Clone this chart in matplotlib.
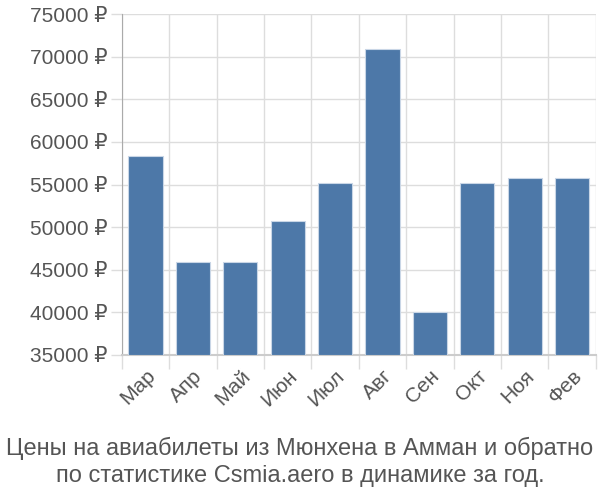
import matplotlib.pyplot as plt
import numpy as np

plt.rcParams['font.family'] = ['Liberation Sans', 'DejaVu Sans']

months = ['Мар', 'Апр', 'Май', 'Июн', 'Июл', 'Авг', 'Сен', 'Окт', 'Ноя', 'Фев']
prices = [58300, 45900, 45900, 50700, 55200, 70900, 40000, 55200, 55800, 55800]
yticks = [35000, 40000, 45000, 50000, 55000, 60000, 65000, 70000, 75000]

fig = plt.figure(figsize=(6, 5), dpi=100)
ax = fig.add_axes([0.203, 0.29, 0.79, 0.682])

x = np.arange(len(months))
ax.bar(x, np.array(prices) - 35000, bottom=35000, width=0.72,
       color='#4d78a8', edgecolor='#c9d6e6', linewidth=0.8, zorder=3)

ax.set_xlim(-0.5, len(months) - 0.5)
ax.set_ylim(35000, 75000)
ax.set_yticks(yticks)
ax.set_yticklabels([f'{v} ₽' for v in yticks], fontsize=15, color='#555555')

# vertical grid lines sit on category boundaries
ax.set_xticks(np.arange(len(months) + 1) - 0.5, minor=True)
ax.set_xticks(x)
ax.set_xticklabels(months, rotation=45, ha='right', rotation_mode='anchor',
                   fontsize=15, color='#555555')
ax.tick_params(axis='x', which='major', length=0, pad=8)
ax.tick_params(axis='x', which='minor', length=10, color='#dddddd', width=1)
ax.tick_params(axis='y', length=8, color='#dddddd', width=1, pad=2)

ax.grid(True, axis='y', color='#dddddd', linewidth=1, zorder=0)
ax.grid(True, axis='x', which='minor', color='#dddddd', linewidth=1, zorder=0)

for side in ['top', 'right']:
    ax.spines[side].set_visible(False)
ax.spines['left'].set_color('#aaaaaa')
ax.spines['bottom'].set_color('#cccccc')
ax.spines['bottom'].set_linewidth(1.5)

fig.text(0.5, 0.077, 'Цены на авиабилеты из Мюнхена в Амман и обратно\nпо статистике Csmia.aero в динамике за год.',
         ha='center', va='center', fontsize=17, color='#555555', linespacing=1.3)

fig.savefig('out.png', dpi=100)
